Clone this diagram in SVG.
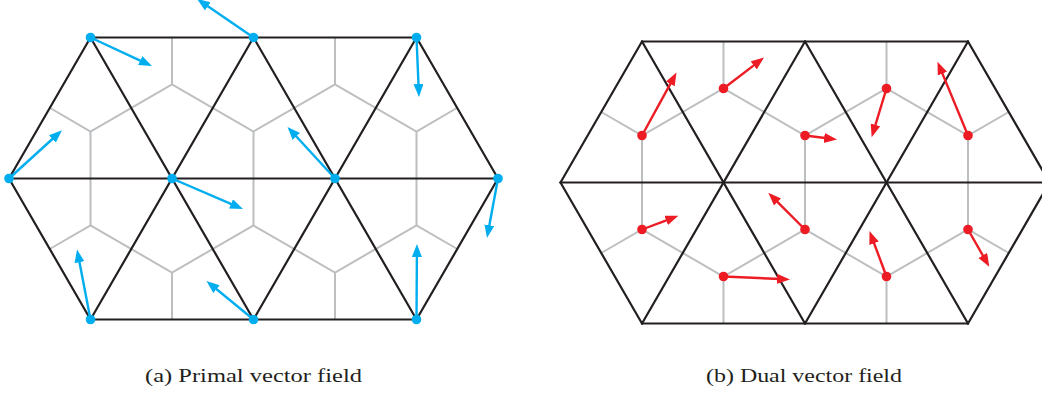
<svg xmlns="http://www.w3.org/2000/svg" width="1042" height="397" viewBox="0 0 1042 397">
<style>
.mesh{stroke:#231F20;stroke-width:2.2;fill:none;stroke-linecap:round}
.dual{stroke:#BCBEC0;stroke-width:2;fill:none}
.pv{stroke:#00AEEF;stroke-width:2.4;fill:none}
.dv{stroke:#ED1C24;stroke-width:2.4;fill:none}
.pd{fill:#00AEEF}
.dd{fill:#ED1C24}
.cap{font-family:"Liberation Serif","DejaVu Serif",serif;font-size:19px;fill:#231F20}
</style>
<defs>
<marker id="ab" markerUnits="userSpaceOnUse" markerWidth="14" markerHeight="11" refX="3" refY="5" orient="auto"><path d="M0,0 L13,5 L0,10 z" fill="#00AEEF"/></marker>
<marker id="ar" markerUnits="userSpaceOnUse" markerWidth="14" markerHeight="11" refX="3" refY="5" orient="auto"><path d="M0,0 L13,5 L0,10 z" fill="#ED1C24"/></marker>
</defs>
<g id="dual-left" class="dual">
<path d="M49.75,107.75 L90.5,131.5 L172,84.5 L253.5,131.5 L335,84.5 L416.5,131.5 L457.25,107.75"/>
<path d="M172,37.5 V84.5 M335,37.5 V84.5"/>
<path d="M90.5,131.5 V225.5 M253.5,131.5 V225.5 M416.5,131.5 V225.5"/>
<path d="M49.75,249 L90.5,225.5 L172,272.5 L253.5,225.5 L335,272.5 L416.5,225.5 L457.25,249"/>
<path d="M172,272.5 V319.5 M335,272.5 V319.5"/>
</g>
<g id="dual-right" class="dual">
<path d="M601.25,112 L642,135.5 L723.5,88.5 L805,135.5 L886.5,88.5 L968,135.5 L1008.75,112"/>
<path d="M723.5,41.5 V88.5 M886.5,41.5 V88.5"/>
<path d="M642,135.5 V229.5 M805,135.5 V229.5 M968,135.5 V229.5"/>
<path d="M601.25,253 L642,229.5 L723.5,276.5 L805,229.5 L886.5,276.5 L968,229.5 L1008.75,253"/>
<path d="M723.5,276.5 V323.5 M886.5,276.5 V323.5"/>
</g>
<g id="connectors">
<g id="mesh-left" class="mesh">
<path d="M90.5,37.5 H416.5 M9,178.5 H498 M90.5,319.5 H416.5"/>
<path d="M9,178.5 L90.5,37.5 M90.5,319.5 L253.5,37.5 M253.5,319.5 L416.5,37.5 M416.5,319.5 L498,178.5"/>
<path d="M90.5,37.5 L253.5,319.5 M253.5,37.5 L416.5,319.5 M416.5,37.5 L498,178.5 M9,178.5 L90.5,319.5"/>
</g>
<g id="mesh-right" class="mesh">
<path d="M642,41.5 H968 M560.5,182.5 H1049.5 M642,323.5 H968"/>
<path d="M560.5,182.5 L642,41.5 M642,323.5 L805,41.5 M805,323.5 L968,41.5 M968,323.5 L1049.5,182.5"/>
<path d="M642,41.5 L805,323.5 M805,41.5 L968,323.5 M968,41.5 L1049.5,182.5 M560.5,182.5 L642,323.5"/>
</g>
<g id="primal-vectors" class="pv" marker-end="url(#ab)">
<line x1="90.5" y1="37.5" x2="142.9" y2="61.8"/>
<line x1="253.5" y1="37.5" x2="205.3" y2="4.6"/>
<line x1="416.5" y1="37.5" x2="418.6" y2="87"/>
<line x1="9" y1="178.5" x2="54.6" y2="137"/>
<line x1="172" y1="178.5" x2="233.8" y2="205.1"/>
<line x1="335" y1="178.5" x2="294.3" y2="134.3"/>
<line x1="498" y1="178.5" x2="488.8" y2="228.2"/>
<line x1="90.5" y1="319.5" x2="78.9" y2="259.3"/>
<line x1="253.5" y1="319.5" x2="214.2" y2="287.3"/>
<line x1="416.5" y1="319.5" x2="416.9" y2="254"/>
</g>
<g id="dual-vectors" class="dv" marker-end="url(#ar)">
<line x1="642" y1="135.5" x2="671.7" y2="81.3"/>
<line x1="723.5" y1="88.5" x2="756.1" y2="63.6"/>
<line x1="805" y1="135.5" x2="827.1" y2="138.3"/>
<line x1="886.5" y1="88.5" x2="874.6" y2="127.7"/>
<line x1="968" y1="135.5" x2="941.3" y2="70.9"/>
<line x1="642" y1="229.5" x2="669" y2="219.3"/>
<line x1="723.5" y1="276.5" x2="780" y2="279"/>
<line x1="805" y1="229.5" x2="775.4" y2="199.8"/>
<line x1="886.5" y1="276.5" x2="873" y2="240.4"/>
<line x1="968" y1="229.5" x2="984.3" y2="258"/>
</g>
</g>
<g id="primal-vertices" class="pd">
<g id="v1"><circle cx="90.5" cy="37.5" r="4.8"/></g>
<g id="v2"><circle cx="253.5" cy="37.5" r="4.8"/></g>
<g id="v3"><circle cx="416.5" cy="37.5" r="4.8"/></g>
<g id="v4"><circle cx="9" cy="178.5" r="4.8"/></g>
<g id="v5"><circle cx="172" cy="178.5" r="4.8"/></g>
<g id="v6"><circle cx="335" cy="178.5" r="4.8"/></g>
<g id="v7"><circle cx="498" cy="178.5" r="4.8"/></g>
<g id="v8"><circle cx="90.5" cy="319.5" r="4.8"/></g>
<g id="v9"><circle cx="253.5" cy="319.5" r="4.8"/></g>
<g id="v10"><circle cx="416.5" cy="319.5" r="4.8"/></g>
</g>
<g id="dual-vertices" class="dd">
<g id="c1"><circle cx="642" cy="135.5" r="4.8"/></g>
<g id="c2"><circle cx="723.5" cy="88.5" r="4.8"/></g>
<g id="c3"><circle cx="805" cy="135.5" r="4.8"/></g>
<g id="c4"><circle cx="886.5" cy="88.5" r="4.8"/></g>
<g id="c5"><circle cx="968" cy="135.5" r="4.8"/></g>
<g id="c6"><circle cx="642" cy="229.5" r="4.8"/></g>
<g id="c7"><circle cx="723.5" cy="276.5" r="4.8"/></g>
<g id="c8"><circle cx="805" cy="229.5" r="4.8"/></g>
<g id="c9"><circle cx="886.5" cy="276.5" r="4.8"/></g>
<g id="c10"><circle cx="968" cy="229.5" r="4.8"/></g>
</g>
<g id="captions">
<text class="cap" x="145" y="382" textLength="217" lengthAdjust="spacingAndGlyphs">(a) Primal vector field</text>
<text class="cap" x="706" y="382" textLength="196" lengthAdjust="spacingAndGlyphs">(b) Dual vector field</text>
</g>
</svg>
